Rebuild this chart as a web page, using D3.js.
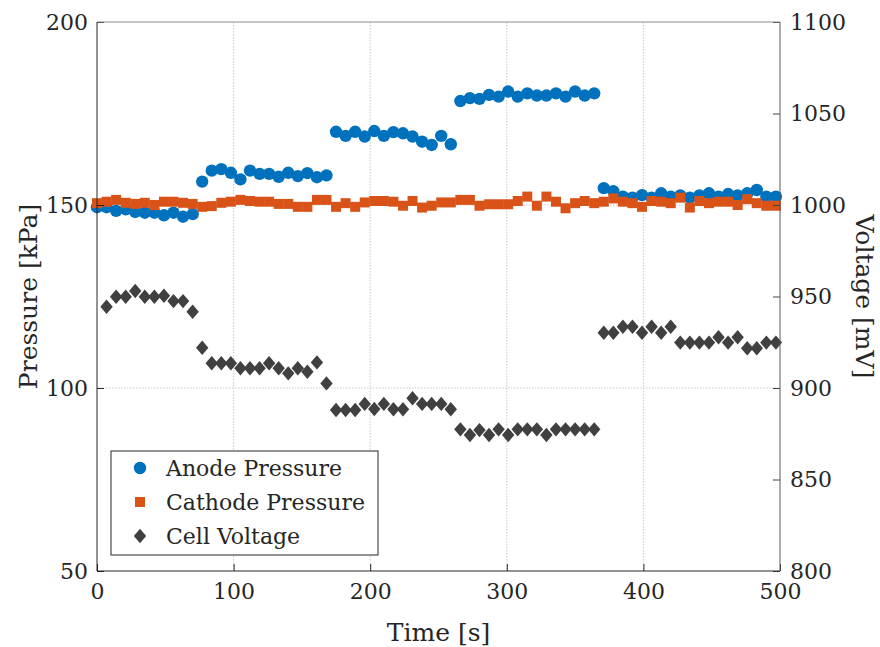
<!DOCTYPE html>
<html lang="en">
<head>
  <meta charset="UTF-8">
  <title>Pressure and Voltage</title>
  <style>
    body, html { margin: 0; padding: 0; background: #fff; }
    #svg { display: block; }
    text { font-family: 'DejaVu Serif', 'Liberation Serif', serif; fill: #262626; }
  </style>
</head>
<body>
  <svg id="svg" width="880" height="647"></svg>

  <script src="https://d3js.org/d3.v7.min.js"></script>
  <script>
    // ----- DATA ----------
    const time = [0, 7, 14, 21, 28, 35, 42, 49, 56, 63, 70, 77, 84, 91, 98, 105, 112, 119, 126, 133,
      140, 147, 154, 161, 168, 175, 182, 189, 196, 203, 210, 217, 224, 231, 238, 245, 252, 259, 266, 273,
      280, 287, 294, 301, 308, 315, 322, 329, 336, 343, 350, 357, 364, 371, 378, 385, 392, 399, 406, 413,
      420, 427, 434, 441, 448, 455, 462, 469, 476, 483, 490, 497]

    const anodePressure = [149.4, 149.4, 148.4, 148.8, 148.1, 147.9, 147.9, 147.2, 147.9, 146.8, 147.5,
      156.4, 159.4, 159.8, 158.8, 157.0, 159.4, 158.5, 158.5, 157.7, 158.8, 157.9, 158.7, 157.6, 158.1,
      170.0, 168.9, 170.0, 168.7, 170.2, 168.9, 169.9, 169.6, 168.7, 167.3, 166.4, 168.9, 166.6,
      178.4, 179.2, 179.0, 180.1, 179.6, 181.0, 179.6, 180.5, 179.9, 179.9, 180.5, 179.6, 181.0, 179.9, 180.5,
      154.6, 153.8, 152.3, 152.0, 152.7, 152.0, 153.2, 152.3, 152.6, 152.0, 152.6, 153.2, 152.3, 153.0,
      152.6, 153.2, 154.1, 152.3, 152.3]

    const cathodePressure = [150.5, 150.9, 151.4, 150.6, 150.3, 150.6, 150.0, 150.9, 150.9, 150.6, 150.3,
      149.5, 149.7, 150.6, 150.9, 151.4, 151.1, 150.9, 150.9, 150.3, 150.3, 149.5, 149.5, 151.4, 151.4,
      149.5, 150.5, 149.5, 150.7, 151.1, 151.1, 150.9, 149.8, 151.1, 149.3, 149.8, 150.7, 150.7,
      151.4, 151.4, 149.8, 150.2, 150.2, 150.2, 151.1, 152.3, 149.8, 152.3, 150.9, 149.1, 150.5, 151.1, 150.5,
      150.9, 151.8, 150.9, 150.5, 149.5, 151.1, 150.9, 150.5, 152.0, 149.3, 151.1, 150.5, 150.9, 150.9,
      150.0, 151.6, 150.5, 149.8, 149.8]

    // no voltage sample at t = 0
    const cellVoltage = [null, 944.4, 949.9, 949.9, 953.0, 949.9, 949.9, 950.4, 947.5, 947.5, 941.7,
      922.0, 913.5, 913.5, 913.5, 910.8, 910.8, 910.8, 913.5, 910.8, 908.0, 910.8, 908.9, 914.0, 902.5,
      888.0, 888.0, 888.0, 891.3, 888.5, 891.3, 888.4, 888.4, 894.4, 891.3, 891.3, 891.3, 888.4,
      877.4, 874.3, 877.0, 874.3, 877.4, 874.3, 877.4, 877.4, 877.4, 874.3, 877.4, 877.4, 877.4, 877.4, 877.4,
      930.2, 930.2, 933.5, 933.5, 930.2, 933.5, 930.2, 933.5, 924.8, 924.8, 924.8, 924.8, 927.7, 924.8,
      927.7, 921.7, 921.7, 924.8, 924.8]

    const xTicks = [0, 100, 200, 300, 400, 500]
    const leftTicks = [50, 100, 150, 200]
    const rightTicks = [800, 850, 900, 950, 1000, 1050, 1100]
    const legendLabels = ['Anode Pressure', 'Cathode Pressure', 'Cell Voltage']

    // CONSTANTS
    const plot = {left: 97, right: 780, top: 22, bottom: 571}
    const blue = '#0072BD', orange = '#D95319', gray = '#404040'

    // -------- SCALES ------------
    const xScale = d3.scaleLinear().domain([0, 500]).range([plot.left, plot.right])
    const yLeft = d3.scaleLinear().domain([50, 200]).range([plot.bottom, plot.top])
    const yRight = d3.scaleLinear().domain([800, 1100]).range([plot.bottom, plot.top])

    const svg = d3.select('#svg')

    // -------- GRID ------------
    const grid = svg.append('g')
    grid.selectAll('line.gx')
      .data(xTicks.slice(1, -1))
      .enter().append('line')
      .attr('x1', d => xScale(d)).attr('x2', d => xScale(d))
      .attr('y1', plot.top).attr('y2', plot.bottom)
    grid.selectAll('line.gy')
      .data(leftTicks.slice(1, -1))
      .enter().append('line')
      .attr('x1', plot.left).attr('x2', plot.right)
      .attr('y1', d => yLeft(d)).attr('y2', d => yLeft(d))
    grid.selectAll('line')
      .attr('stroke', '#c8c8c8')
      .attr('stroke-width', 1)
      .attr('stroke-dasharray', '1.5,1.5')

    // -------- MARKS ------------
    const anodeData = time.map((t, i) => ({t, v: anodePressure[i]}))
    const cathodeData = time.map((t, i) => ({t, v: cathodePressure[i]}))
    const voltageData = time.map((t, i) => ({t, v: cellVoltage[i]})).filter(d => d.v !== null)

    const sq = d3.symbol().type(d3.symbolSquare).size(100)
    const diamond = 'M0,-7.2L6.2,0L0,7.2L-6.2,0Z'

    svg.append('g').selectAll('circle')
      .data(anodeData)
      .enter().append('circle')
      .attr('cx', d => xScale(d.t))
      .attr('cy', d => yLeft(d.v))
      .attr('r', 6.2)
      .attr('fill', blue)

    svg.append('g').selectAll('path')
      .data(cathodeData)
      .enter().append('path')
      .attr('d', sq)
      .attr('transform', d => `translate(${xScale(d.t)},${yLeft(d.v)})`)
      .attr('fill', orange)

    svg.append('g').selectAll('path')
      .data(voltageData)
      .enter().append('path')
      .attr('d', diamond)
      .attr('transform', d => `translate(${xScale(d.t)},${yRight(d.v)})`)
      .attr('fill', gray)

    // -------- AXES ------------
    const bottomAxis = d3.axisBottom(xScale).tickValues(xTicks).tickSize(-7).tickPadding(12)
    const leftAxis = d3.axisLeft(yLeft).tickValues(leftTicks).tickSize(-7).tickPadding(9)
    const rightAxis = d3.axisRight(yRight).tickValues(rightTicks).tickSize(-7).tickPadding(10)
      .tickFormat(d3.format('d'))

    const gx = svg.append('g').attr('transform', `translate(0, ${plot.bottom})`).call(bottomAxis)
    const gl = svg.append('g').attr('transform', `translate(${plot.left}, 0)`).call(leftAxis)
    const gr = svg.append('g').attr('transform', `translate(${plot.right}, 0)`).call(rightAxis)

    ;[gx, gl, gr].forEach(g => {
      g.select('.domain').remove()
      g.selectAll('text')
        .style('font-family', "'DejaVu Serif', serif")
        .style('font-size', '22px')
        .attr('fill', '#262626')
      g.selectAll('line').attr('stroke', '#262626')
    })
    gr.selectAll('line').attr('stroke', '#404040')

    // box lines
    svg.append('line').attr('x1', plot.left).attr('x2', plot.right)
      .attr('y1', plot.top).attr('y2', plot.top).attr('stroke', '#8c8c8c')
    svg.append('line').attr('x1', plot.left).attr('x2', plot.right)
      .attr('y1', plot.bottom).attr('y2', plot.bottom).attr('stroke', '#262626')
    svg.append('line').attr('x1', plot.left).attr('x2', plot.left)
      .attr('y1', plot.top).attr('y2', plot.bottom).attr('stroke', '#262626')
    svg.append('line').attr('x1', plot.right).attr('x2', plot.right)
      .attr('y1', plot.top).attr('y2', plot.bottom).attr('stroke', '#595959')

    // axis labels
    svg.append('text')
      .attr('x', (plot.left + plot.right) / 2)
      .attr('y', 641)
      .attr('text-anchor', 'middle')
      .style('font-size', '25px')
      .text('Time [s]')
    svg.append('text')
      .attr('transform', `translate(37, ${(plot.top + plot.bottom) / 2})rotate(-90)`)
      .attr('text-anchor', 'middle')
      .style('font-size', '25px')
      .text('Pressure [kPa]')
    svg.append('text')
      .attr('transform', `translate(856, ${(plot.top + plot.bottom) / 2})rotate(90)`)
      .attr('text-anchor', 'middle')
      .style('font-size', '25px')
      .text('Voltage [mV]')

    // -------- LEGEND ------------
    const legend = svg.append('g')
    legend.append('rect')
      .attr('x', 111).attr('y', 451)
      .attr('width', 267).attr('height', 104)
      .attr('fill', '#fff')
      .attr('stroke', '#262626')
      .attr('stroke-width', 1)

    const rowY = [468, 502, 536]
    legend.append('circle').attr('cx', 140).attr('cy', rowY[0]).attr('r', 6.2).attr('fill', blue)
    legend.append('path').attr('d', sq).attr('transform', `translate(140,${rowY[1]})`).attr('fill', orange)
    legend.append('path').attr('d', diamond).attr('transform', `translate(140,${rowY[2]})`).attr('fill', gray)

    legend.selectAll('text')
      .data(legendLabels)
      .enter().append('text')
      .attr('x', 166)
      .attr('y', (d, i) => rowY[i])
      .attr('dy', '0.35em')
      .style('font-size', '22px')
      .text(d => d)
  </script>
</body>
</html>
